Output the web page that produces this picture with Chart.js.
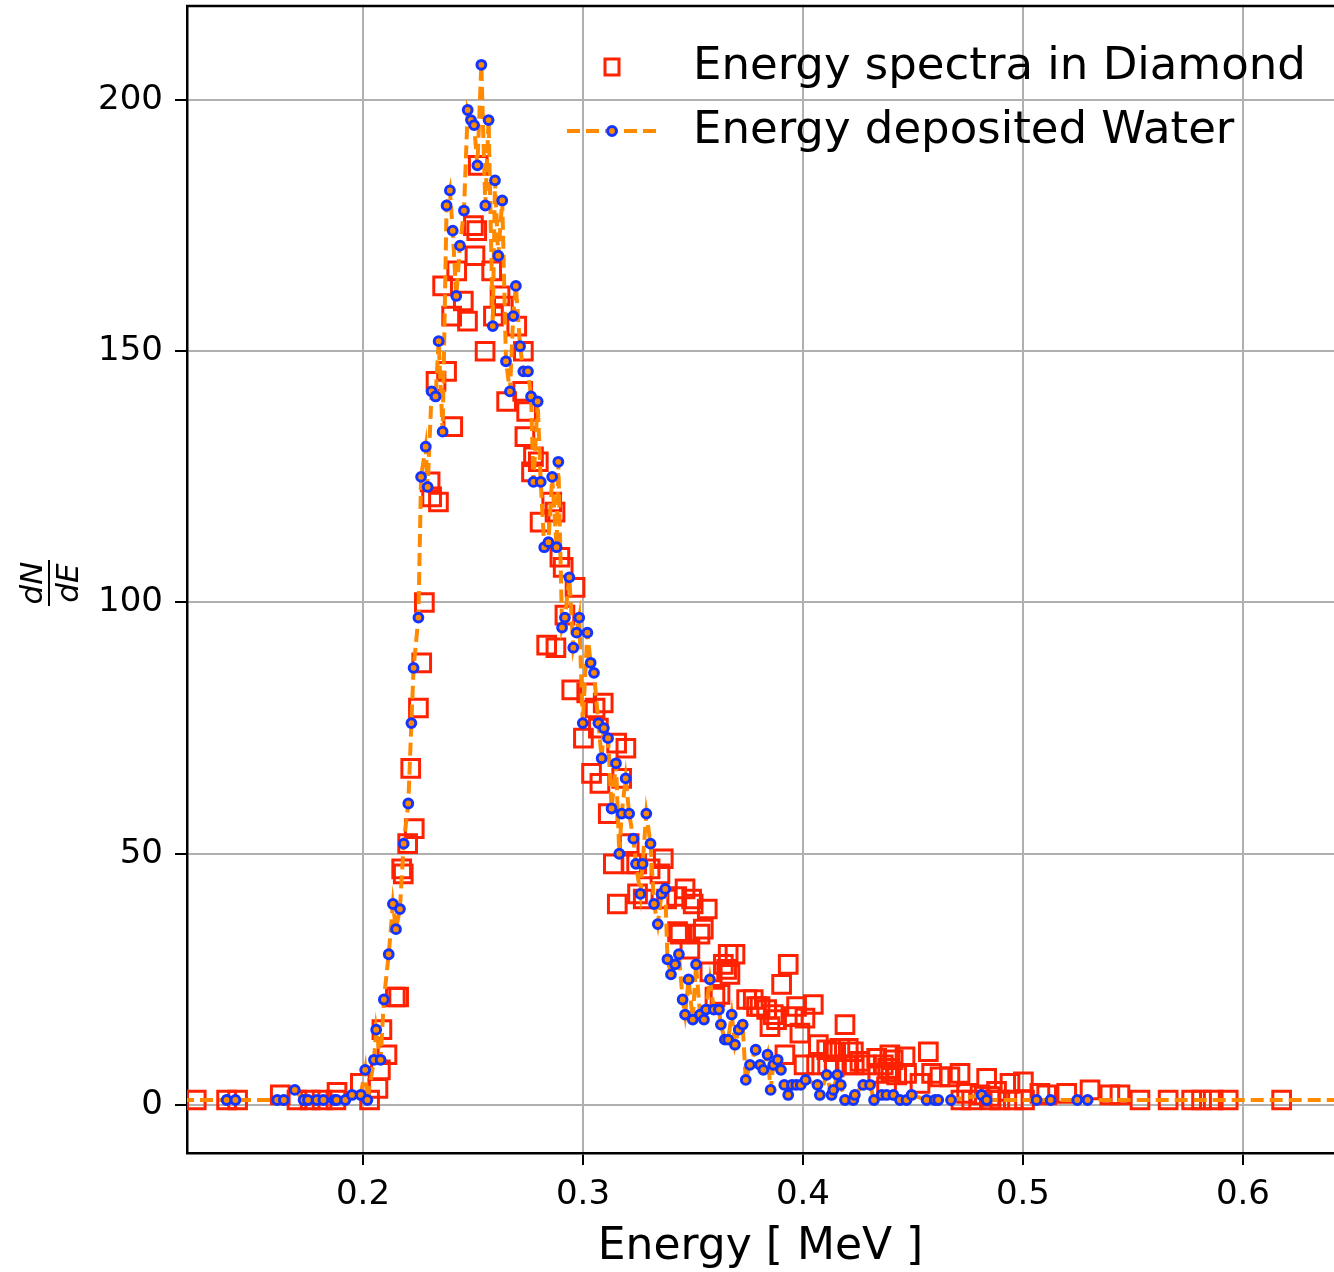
<!DOCTYPE html>
<html>
<head>
<meta charset="utf-8">
<script src="https://cdn.jsdelivr.net/npm/chart.js"></script>
<style>
  html, body { margin: 0; padding: 0; background: #fff; }
  canvas { display: block; }
</style>
</head>
<body>
<canvas id="spectrum" width="1334" height="1272"></canvas>
<script>
// Energy deposited in water (orange dashed line, blue markers)
const waterE = [0.100, 0.138, 0.142, 0.161, 0.164, 0.169, 0.173, 0.175, 0.179, 0.182,
    0.187, 0.188, 0.192, 0.195, 0.199, 0.201, 0.202, 0.205, 0.206, 0.208,
    0.2095, 0.2117, 0.2136, 0.215, 0.2168, 0.2185, 0.2206, 0.222, 0.223, 0.2252,
    0.2264, 0.2285, 0.2294, 0.2312, 0.233, 0.2344, 0.2362, 0.238, 0.2395, 0.2408,
    0.2424, 0.2441, 0.2459, 0.2476, 0.2491, 0.2505, 0.252, 0.2538, 0.2556, 0.2571,
    0.259, 0.26, 0.2615, 0.2633, 0.265, 0.2668, 0.2683, 0.2695, 0.2714, 0.2729,
    0.275, 0.2764, 0.2775, 0.2794, 0.2808, 0.2824, 0.2843, 0.286, 0.288, 0.2888,
    0.2905, 0.2918, 0.2938, 0.2956, 0.2971, 0.2983, 0.2999, 0.302, 0.3035, 0.305,
    0.307, 0.3085, 0.3095, 0.3114, 0.313, 0.315, 0.3165, 0.3176, 0.3194, 0.321,
    0.3229, 0.3241, 0.3261, 0.3271, 0.3288, 0.3307, 0.3323, 0.334, 0.3357, 0.3374,
    0.3384, 0.34, 0.3419, 0.3436, 0.3453, 0.3464, 0.348, 0.3499, 0.3514, 0.3532,
    0.355, 0.3559, 0.3577, 0.3595, 0.3618, 0.3627, 0.3645, 0.366, 0.3676, 0.3691,
    0.3708, 0.3726, 0.374, 0.3759, 0.3785, 0.3805, 0.382, 0.3839, 0.3853, 0.3865,
    0.3885, 0.39, 0.3915, 0.3933, 0.395, 0.397, 0.399, 0.4012, 0.4066, 0.4077,
    0.4108, 0.413, 0.4138, 0.4156, 0.4172, 0.4191, 0.4229, 0.4236, 0.4274, 0.4305,
    0.4323, 0.4358, 0.438, 0.4411, 0.4441, 0.4471, 0.4494, 0.4562, 0.46, 0.4615,
    0.4673, 0.4812, 0.4835, 0.5062, 0.5126, 0.5247, 0.5294, 0.68];
const waterN = [1, 1, 1, 1, 1, 3, 1, 1, 1, 1,
    1, 1, 1, 2, 2, 7, 1, 9, 15, 9,
    21, 30, 40, 35, 39, 52, 60, 76, 87, 97,
    125, 131, 123, 142, 141, 152, 134, 179, 182, 174,
    161, 171, 178, 198, 196, 195, 187, 207, 179, 196,
    155, 184, 169, 180, 148, 142, 157, 163, 151, 146,
    146, 141, 124, 140, 124, 111, 112, 125, 111, 128,
    95, 97, 105, 91, 94, 97, 76, 94, 88, 86,
    76, 69, 75, 73, 59, 68, 50, 58, 65, 58,
    53, 48, 42, 48, 58, 52, 40, 36, 42, 43,
    29, 26, 28, 30, 21, 18, 25, 17, 28, 18,
    17, 19, 25, 19, 19, 16, 13, 13, 18, 12,
    15, 16, 5, 8, 11, 8, 7, 10, 3, 8,
    9, 7, 4, 2, 4, 4, 4, 5, 4, 2,
    6, 2, 3, 6, 4, 1, 1, 2, 4, 4,
    1, 2, 2, 2, 1, 1, 2, 1, 1, 1,
    1, 2, 1, 1, 1, 1, 1, 1];

// Energy spectra in diamond (red open squares)
const diamondE = [0.1242, 0.138, 0.143, 0.1624, 0.17, 0.176, 0.1814, 0.1877, 0.1882, 0.1988,
    0.203, 0.2068, 0.2079, 0.2086, 0.2109, 0.2147, 0.2162, 0.2176, 0.2183, 0.2203,
    0.2217, 0.2233, 0.2252, 0.2267, 0.2279, 0.2305, 0.2312, 0.2332, 0.2343, 0.2362,
    0.238, 0.2403, 0.2408, 0.2426, 0.2456, 0.2475, 0.2502, 0.2509, 0.2517, 0.2524,
    0.2555, 0.2585, 0.2593, 0.2623, 0.2638, 0.2653, 0.2699, 0.2726, 0.2729, 0.2736,
    0.2744, 0.2766, 0.2775, 0.2797, 0.2805, 0.2835, 0.2858, 0.2873, 0.2877, 0.2895,
    0.291, 0.2918, 0.2949, 0.2964, 0.3002, 0.3017, 0.3039, 0.3055, 0.307, 0.3077,
    0.3092, 0.3115, 0.3138, 0.3153, 0.3156, 0.3176, 0.3195, 0.321, 0.3221, 0.3244,
    0.3248, 0.3274, 0.3305, 0.335, 0.3365, 0.338, 0.3426, 0.343, 0.3441, 0.3464,
    0.3486, 0.3494, 0.3501, 0.3532, 0.3547, 0.3565, 0.3577, 0.36, 0.3623, 0.3638,
    0.3653, 0.366, 0.3668, 0.3691, 0.3744, 0.3774, 0.3789, 0.3805, 0.3835, 0.385,
    0.3865, 0.388, 0.3903, 0.3918, 0.3933, 0.3956, 0.3971, 0.3986, 0.4005, 0.4009,
    0.4047, 0.4062, 0.407, 0.4108, 0.4112, 0.4138, 0.4142, 0.4168, 0.4191, 0.4199,
    0.4206, 0.4229, 0.4233, 0.4259, 0.4289, 0.4335, 0.434, 0.4365, 0.438, 0.4385,
    0.4395, 0.44, 0.441, 0.4426, 0.4464, 0.4471, 0.4532, 0.457, 0.4585, 0.4623,
    0.4668, 0.4714, 0.4718, 0.4744, 0.4767, 0.4805, 0.4835, 0.485, 0.4855, 0.488,
    0.4895, 0.4941, 0.4956, 0.5002, 0.5007, 0.5077, 0.5108, 0.5199, 0.5305, 0.5395,
    0.5441, 0.5532, 0.566, 0.5767, 0.5812, 0.5865, 0.5933, 0.6176];
const diamondN = [1, 1, 1, 2, 1, 1, 1, 1, 2.5, 4.3,
    1, 3.3, 7, 15, 10, 21.5, 21.5, 47, 46, 52,
    67, 55, 79, 88, 100, 124, 121, 144, 120, 163,
    146, 157, 135, 166, 160, 156, 175, 169, 174, 187,
    150, 166, 157, 161, 159, 140, 155, 142, 150, 133,
    138, 126, 129, 128, 116, 91.5, 120, 118, 91, 109,
    107, 97.5, 82.6, 103, 73, 82, 66, 79, 75, 64,
    80, 58, 48, 72, 40, 65, 71, 52, 48, 48,
    42, 41, 47, 46, 49, 41, 41.5, 34.5, 34, 43,
    31, 41, 40, 34, 35, 39, 26.5, 21.5, 22, 28,
    27, 30, 26, 30, 21, 21, 19.6, 19.6, 19, 15.6,
    18, 17, 24, 10, 28, 17.6, 19.6, 14.3, 8, 17.3,
    20, 8, 12, 11, 8, 10.6, 7.6, 11.3, 16, 8,
    11.3, 10.6, 8, 8.7, 8, 9.3, 6.3, 8, 3.6, 7.3,
    10, 6.6, 9, 6, 9.6, 6.3, 4.3, 10.6, 6.3, 5.6,
    5.6, 6.3, 1, 2.3, 1, 2, 5.3, 1.7, 1, 2.7,
    1, 4.3, 1, 4.6, 1, 2.3, 2, 2.3, 3, 2,
    2, 1, 1, 1, 1, 1, 1, 1];

const xTicks = [0.2, 0.3, 0.4, 0.5, 0.6];
const yTicks = [0, 50, 100, 150, 200];
const legendLabels = ['Energy spectra in Diamond', 'Energy deposited Water'];

const ORANGE = '#ff8a00';
const BLUE = '#1435ff';
const RED = '#ff2200';
const GRID = '#b0b0b0';

Chart.defaults.font.family = '"DejaVu Sans", sans-serif';
Chart.defaults.color = '#000';

function toPoints(xs, ys) {
    const pts = [];
    for (let i = 0; i < xs.length; i++) {
        pts.push({ x: xs[i], y: ys[i] });
    }
    return pts;
}

// no extra padding from tick labels, so the plot box sits where the reference has it
function noPad(scale) {
    scale.paddingTop = 0;
    scale.paddingBottom = 0;
    scale.paddingLeft = 0;
    scale.paddingRight = 0;
}

// top spine, fraction-style y label and the in-plot legend
const extras = {
    id: 'extras',
    afterDraw(chart) {
        const ctx = chart.ctx;
        const a = chart.chartArea;
        ctx.save();

        ctx.strokeStyle = '#000';
        ctx.lineWidth = 2.5;
        ctx.beginPath();
        ctx.moveTo(a.left - 1, a.top);
        ctx.lineTo(a.right, a.top);
        ctx.stroke();

        // dN/dE
        ctx.save();
        ctx.translate(49, 583);
        ctx.rotate(-Math.PI / 2);
        ctx.fillStyle = '#000';
        ctx.font = 'italic 31px "DejaVu Sans"';
        ctx.textAlign = 'center';
        ctx.textBaseline = 'alphabetic';
        ctx.fillText('dN', 0, -7);
        ctx.fillText('dE', 0, 29);
        ctx.lineWidth = 2;
        ctx.beginPath();
        ctx.moveTo(-23, 0);
        ctx.lineTo(23, 0);
        ctx.stroke();
        ctx.restore();

        // legend
        ctx.strokeStyle = RED;
        ctx.lineWidth = 3;
        ctx.strokeRect(605, 59, 14, 16);

        ctx.strokeStyle = ORANGE;
        ctx.lineWidth = 4;
        ctx.setLineDash([13, 6]);
        ctx.beginPath();
        ctx.moveTo(567, 131);
        ctx.lineTo(657, 131);
        ctx.stroke();
        ctx.setLineDash([]);
        ctx.beginPath();
        ctx.arc(612, 131, 4.4, 0, Math.PI * 2);
        ctx.fillStyle = ORANGE;
        ctx.fill();
        ctx.strokeStyle = BLUE;
        ctx.lineWidth = 3;
        ctx.stroke();

        ctx.fillStyle = '#000';
        ctx.font = '45px "DejaVu Sans"';
        ctx.textAlign = 'left';
        ctx.textBaseline = 'middle';
        ctx.fillText(legendLabels[0], 693, 67);
        ctx.fillText(legendLabels[1], 693, 131);
        ctx.restore();
    }
};

new Chart(document.getElementById('spectrum'), {
    type: 'scatter',
    data: {
        datasets: [
            {
                label: legendLabels[1],
                data: toPoints(waterE, waterN),
                showLine: true,
                borderColor: ORANGE,
                borderWidth: 4,
                borderDash: [13, 6],
                tension: 0,
                pointRadius: 4.4,
                pointBorderWidth: 3,
                pointBorderColor: BLUE,
                pointBackgroundColor: ORANGE,
                order: 0
            },
            {
                label: legendLabels[0],
                data: toPoints(diamondE, diamondN),
                showLine: false,
                pointStyle: 'rect',
                pointRadius: 12.5,
                pointBorderWidth: 3,
                pointBorderColor: RED,
                pointBackgroundColor: 'rgba(0,0,0,0)',
                order: 1
            }
        ]
    },
    options: {
        responsive: false,
        animation: false,
        devicePixelRatio: 1,
        events: [],
        layout: { autoPadding: false, padding: { top: 6, right: 0, bottom: 0, left: 0 } },
        plugins: {
            legend: { display: false },
            tooltip: { enabled: false }
        },
        scales: {
            x: {
                type: 'linear',
                min: 0.12,
                max: 0.6414,
                afterFit: function(scale) { scale.height = 119; noPad(scale); },
                afterBuildTicks: function(scale) {
                    scale.ticks = xTicks.map(v => ({ value: v }));
                },
                ticks: {
                    font: { size: 34 },
                    color: '#000',
                    padding: 10,
                    maxRotation: 0,
                    callback: v => v.toFixed(1)
                },
                grid: {
                    color: GRID,
                    lineWidth: 2,
                    tickLength: 12,
                    tickColor: '#000',
                    tickWidth: 2
                },
                border: { display: true, color: '#000', width: 2.5 },
                title: {
                    display: true,
                    text: 'Energy [ MeV ]',
                    font: { size: 44, lineHeight: 1.1 },
                    color: '#000',
                    padding: { top: 0, bottom: 0 }
                }
            },
            y: {
                type: 'linear',
                min: -9.55,
                max: 218.7,
                afterFit: function(scale) { scale.width = 187; noPad(scale); },
                afterBuildTicks: function(scale) {
                    scale.ticks = yTicks.map(v => ({ value: v }));
                },
                ticks: {
                    font: { size: 34 },
                    color: '#000',
                    padding: 12,
                    callback: v => String(v)
                },
                grid: {
                    color: GRID,
                    lineWidth: 2,
                    tickLength: 12,
                    tickColor: '#000',
                    tickWidth: 2
                },
                border: { display: true, color: '#000', width: 2.5 }
            }
        }
    },
    plugins: [extras]
});
</script>
</body>
</html>
